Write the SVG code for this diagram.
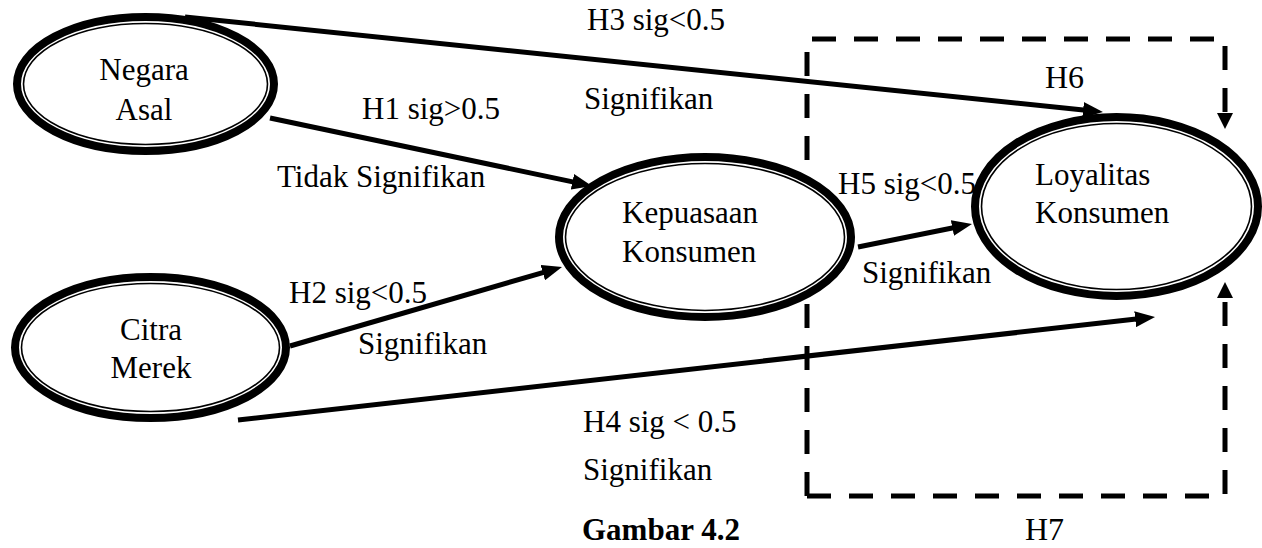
<svg xmlns="http://www.w3.org/2000/svg" width="1262" height="548" viewBox="0 0 1262 548">
<defs>
<style>
.t{font-family:"Liberation Serif","Times New Roman",serif;font-size:31px;fill:#000}
.b{font-family:"Liberation Serif","Times New Roman",serif;font-size:31px;font-weight:bold;fill:#000}
.h{font-family:"Liberation Serif","Times New Roman",serif;font-size:32px;fill:#000}
.outer{fill:#fff;stroke:#000;stroke-width:8}
.inner{fill:none;stroke:#000;stroke-width:1.6}
.arr{fill:none;stroke:#000;stroke-width:5}
.dash{fill:none;stroke:#000;stroke-width:5;stroke-dasharray:24 18}
</style>
<marker id="ah" viewBox="0 0 20 16" refX="10" refY="8" markerWidth="20" markerHeight="16" markerUnits="userSpaceOnUse" orient="auto">
<path d="M0,0 L20,8 L0,16 z" fill="#000"/>
</marker>
<marker id="dh" viewBox="0 0 16 16" refX="6" refY="8" markerWidth="16" markerHeight="16" markerUnits="userSpaceOnUse" orient="auto">
<path d="M0,0 L16,8 L0,16 z" fill="#000"/>
</marker>
</defs>
<rect width="1262" height="548" fill="#fff"/>
<g id="connectors">
<path class="dash" d="M807,496 V39 H1225 V119" marker-end="url(#dh)"/>
<path class="dash" d="M807,496 H1225 V292" marker-end="url(#dh)"/>
<line class="arr" x1="185" y1="17" x2="1093" y2="111" marker-end="url(#ah)"/>
<line class="arr" x1="270" y1="118" x2="582.2" y2="183.9" marker-end="url(#ah)"/>
<line class="arr" x1="290" y1="346" x2="552.4" y2="269.8" marker-end="url(#ah)"/>
<line class="arr" x1="858" y1="247" x2="962.2" y2="226" marker-end="url(#ah)"/>
<line class="arr" x1="238" y1="420" x2="1145.1" y2="318.1" marker-end="url(#ah)"/>
</g>
<g id="negara-asal">
<ellipse class="outer" cx="145.5" cy="84" rx="128.5" ry="67"/>
<ellipse class="inner" cx="145.5" cy="84" rx="122" ry="60.5"/>
<text class="t" x="144" y="80" text-anchor="middle">Negara</text>
<text class="t" x="144" y="120" text-anchor="middle">Asal</text>
</g>
<g id="citra-merek">
<ellipse class="outer" cx="150.5" cy="347.5" rx="135.5" ry="70.5"/>
<ellipse class="inner" cx="150.5" cy="347.5" rx="129" ry="64"/>
<text class="t" x="151" y="340" text-anchor="middle">Citra</text>
<text class="t" x="151" y="378" text-anchor="middle">Merek</text>
</g>
<g id="kepuasaan-konsumen">
<ellipse class="outer" cx="705" cy="237" rx="146" ry="80"/>
<ellipse class="inner" cx="705" cy="237" rx="139.5" ry="73.5"/>
<text class="t" x="622" y="223">Kepuasaan</text>
<text class="t" x="622" y="262">Konsumen</text>
</g>
<g id="loyalitas-konsumen">
<ellipse class="outer" cx="1116.5" cy="206.5" rx="141.5" ry="89.5"/>
<ellipse class="inner" cx="1116.5" cy="206.5" rx="135" ry="83"/>
<text class="t" x="1035" y="185">Loyalitas</text>
<text class="t" x="1035" y="223">Konsumen</text>
</g>
<g id="labels">
<text class="t" x="587" y="30">H3 sig&lt;0.5</text>
<text class="t" x="584" y="109">Signifikan</text>
<text class="t" x="362" y="119">H1 sig&gt;0.5</text>
<text class="t" x="277" y="187">Tidak Signifikan</text>
<text class="t" x="289" y="303">H2 sig&lt;0.5</text>
<text class="t" x="358" y="354">Signifikan</text>
<text class="t" x="838" y="194">H5 sig&lt;0.5</text>
<text class="t" x="862" y="283">Signifikan</text>
<text class="t" x="583" y="432">H4 sig &lt; 0.5</text>
<text class="t" x="583" y="480">Signifikan</text>
<text class="h" x="1045" y="88">H6</text>
<text class="h" x="1025" y="540">H7</text>
<text class="b" x="582" y="540">Gambar 4.2</text>
</g>
</svg>
